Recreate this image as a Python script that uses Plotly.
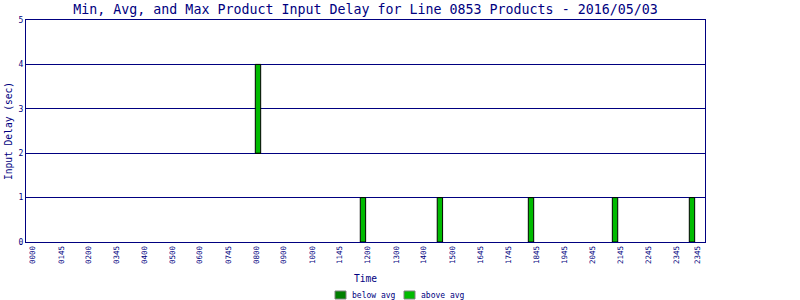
import plotly.graph_objects as go

# ---- data ----
tick_labels = ["0000", "0145", "0200", "0345", "0400", "0500", "0600", "0745", "0800",
               "0900", "1000", "1145", "1200", "1300", "1400", "1500", "1645", "1745",
               "1845", "1945", "2045", "2145", "2245", "2345", "2345"]
tick_hours = [0.22, 1.24, 2.20, 3.21, 4.18, 5.17, 6.15, 7.15, 8.15, 9.12, 10.13, 11.10,
              12.09, 13.10, 14.07, 15.06, 16.05, 17.04, 18.05, 19.05, 20.03, 21.02,
              21.99, 23.00, 23.75]
product_hours = [8.20, 11.91, 14.63, 17.85, 20.82, 23.54]
min_delay = [2, 0, 0, 0, 0, 0]
avg_delay = [2, 0, 0, 0, 0, 0]
max_delay = [4, 1, 1, 1, 1, 1]

NAVY = "#000080"
DARK_GREEN = "#008000"
LIGHT_GREEN = "#00BB00"
FONT = "DejaVu Sans Mono"

below = [a - m for a, m in zip(avg_delay, min_delay)]
above = [x - a for x, a in zip(max_delay, avg_delay)]

fig = go.Figure()
fig.add_trace(go.Bar(name="below avg", x=product_hours, y=below, base=min_delay,
                     width=0.19, marker=dict(color=DARK_GREEN, line=dict(color="black", width=1)),
                     showlegend=False))
fig.add_trace(go.Bar(name="above avg", x=product_hours, y=above, base=avg_delay,
                     width=0.19, marker=dict(color=LIGHT_GREEN, line=dict(color="black", width=1)),
                     showlegend=False))

# manual legend
L, R, T, B = 26, 705, 20, 242
def px(x):
    return (x - L) / (R - L)
def py(y):
    return (B - y) / (B - T)

legend_items = [("below avg", DARK_GREEN, 335), ("above avg", LIGHT_GREEN, 404)]
for name, col, x0 in legend_items:
    fig.add_shape(type="rect", xref="paper", yref="paper",
                  x0=px(x0), x1=px(x0 + 11), y0=py(291), y1=py(299),
                  fillcolor=col, line=dict(color="#808080", width=1))
    fig.add_annotation(text=name, xref="paper", yref="paper", x=px(x0 + 15), y=py(295),
                       xanchor="left", yanchor="middle", showarrow=False,
                       font=dict(family=FONT, size=8, color=NAVY))

fig.update_layout(
    width=800, height=300,
    margin=dict(l=L, r=800 - R, t=T, b=300 - B),
    paper_bgcolor="white", plot_bgcolor="white",
    barmode="overlay",
    title=dict(text="Min, Avg, and Max Product Input Delay for Line 0853 Products - 2016/05/03",
               x=0.5, xref="paper", xanchor="center",
               y=1 - 9 / 300, yref="container", yanchor="middle",
               font=dict(family=FONT, size=13.3, color=NAVY)),
    font=dict(family=FONT, color=NAVY),
    xaxis=dict(range=[0, 24], tickmode="array", tickvals=tick_hours, ticktext=tick_labels,
               tickangle=-90, tickfont=dict(family=FONT, size=7.5, color=NAVY),
               showgrid=False, zeroline=False, showline=True, linecolor=NAVY, linewidth=1,
               mirror=True, ticks="", automargin=False,
               title=dict(text="Time", font=dict(family=FONT, size=9.6, color=NAVY), standoff=12)),
    yaxis=dict(range=[0, 5], tickmode="array", tickvals=[0, 1, 2, 3, 4, 5],
               tickfont=dict(family=FONT, size=8, color=NAVY),
               showgrid=True, gridcolor=NAVY, gridwidth=1, zeroline=False,
               showline=True, linecolor=NAVY, linewidth=1, mirror=True, ticks="",
               automargin=False,
               title=dict(text="Input Delay (sec)", font=dict(family=FONT, size=9.6, color=NAVY),
                          standoff=4)),
)

fig.write_html("out.html")
